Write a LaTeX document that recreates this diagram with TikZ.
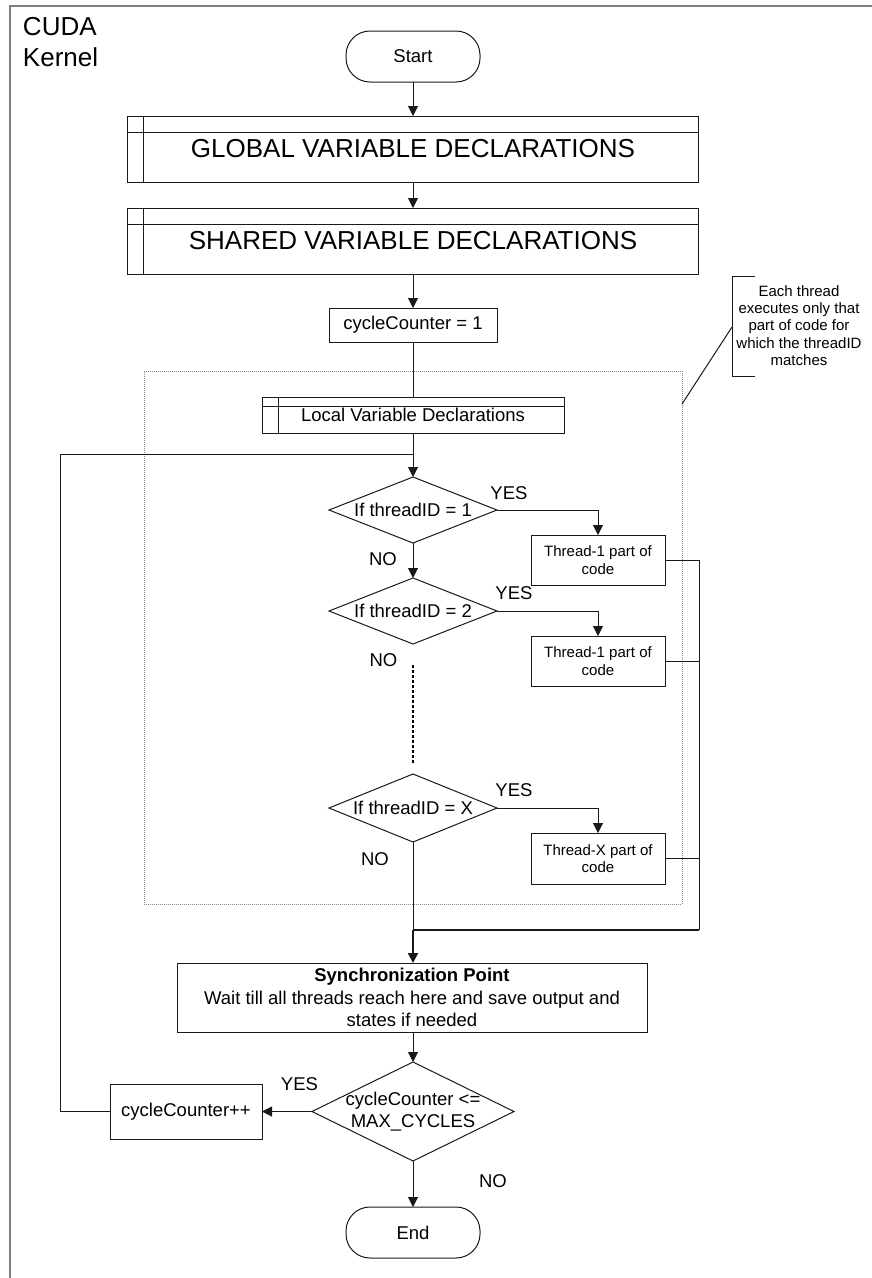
\documentclass[tikz,border=0pt]{standalone}
\usepackage{fontspec}
\setmainfont{Liberation Sans}
\usetikzlibrary{arrows.meta,shapes.geometric}

\newcommand\fmain{\fontsize{18.5}{22.5}\selectfont}
\newcommand\fbig{\fontsize{26}{31}\selectfont}
\newcommand\fsmall{\fontsize{15}{17.4}\selectfont}

\begin{document}
\begin{tikzpicture}[x=1pt,y=-1pt,
  every node/.style={inner sep=0pt, outer sep=0pt},
  conn/.style={line width=1pt, black!90},
  arr/.style={conn, -{Triangle[length=10pt,width=10pt]}},
  txt/.style={font=\fmain, text=black},
  term/.style={draw=black!90, line width=1pt, rectangle, rounded corners=24pt,
    minimum width=134pt, minimum height=51pt, font=\fmain},
  proc/.style={draw=black!90, line width=1pt, rectangle, align=center},
  subr/.style={draw=black!90, line width=1pt, rectangle,
    path picture={
      \draw[line width=1pt, black!90]
        ([yshift=-#1]path picture bounding box.north west) --
        ([yshift=-#1]path picture bounding box.north east);
      \draw[line width=1pt, black!90]
        ([xshift=16pt]path picture bounding box.north west) --
        ([xshift=16pt]path picture bounding box.south west);}},
  decision/.style={draw=black!90, line width=1pt, diamond, shape aspect=2.5}
]
\useasboundingbox (0,0) rectangle (872,1278);

% kernel frame
\draw[line width=2pt, black!50] (10,1278) -- (10,6) -- (872,6);
\node[font=\fbig, align=left, anchor=west] (title) at (23,42) {CUDA\\Kernel};

% thread region
\node[draw=black!45, line width=0.8pt, dash pattern=on 1pt off 1pt,
  minimum width=538pt, minimum height=533pt] (zone) at (413,637.5) {};

% main column
\node[term] (start) at (413,56.5) {Start};
\node[subr=16pt, minimum width=571pt, minimum height=66pt, font=\fbig] (glob) at (413,149) {GLOBAL VARIABLE DECLARATIONS};
\node[subr=16pt, minimum width=571pt, minimum height=66pt, font=\fbig] (shared) at (413,241) {SHARED VARIABLE DECLARATIONS};
\node[proc, minimum width=168pt, minimum height=34pt, font=\fmain] (cc1) at (413,325) {cycleCounter = 1};
\node[subr=9pt, minimum width=302pt, minimum height=36pt, font=\fmain] (local) at (413,415) {Local Variable Declarations};

\node[decision, minimum width=168pt, minimum height=66pt] (d1) at (413,510) {};
\node[txt] at (d1.center) {If threadID = 1};
\node[decision, minimum width=168pt, minimum height=66pt] (d2) at (413,611) {};
\node[txt] at (d2.center) {If threadID = 2};
\node[decision, minimum width=168pt, minimum height=68pt] (dX) at (413,808) {};
\node[txt] at (dX.center) {If threadID = X};

\node[proc, minimum width=134pt, minimum height=50pt, font=\fsmall] (t1) at (598,560) {Thread-1 part of\\code};
\node[proc, minimum width=134pt, minimum height=50pt, font=\fsmall] (t2) at (598,661) {Thread-1 part of\\code};
\node[proc, minimum width=134pt, minimum height=51pt, font=\fsmall] (tX) at (598,858.5) {Thread-X part of\\code};

\node[proc, minimum width=470pt, minimum height=69pt, font=\fmain] (sync) at (412,997.5)
  {\textbf{Synchronization Point}\\Wait till all threads reach here and save output and\\states if needed};

\node[decision, minimum width=202pt, minimum height=99pt] (d4) at (413,1111.5) {};
\node[txt, align=center] at (d4.center) {cycleCounter <=\\MAX\_CYCLES};
\node[proc, minimum width=152pt, minimum height=55pt, font=\fmain] (inc) at (186,1111.5) {cycleCounter++};
\node[term] (end) at (413,1232.5) {End};

% branch labels
\node[txt] at (509,493) {YES};
\node[txt] at (514,593.5) {YES};
\node[txt] at (514,790) {YES};
\node[txt] at (299.5,1084) {YES};
\node[txt] at (383,559.5) {NO};
\node[txt] at (383.5,660.5) {NO};
\node[txt] at (375,859.5) {NO};
\node[txt] at (493,1181.5) {NO};

% note
\node[font=\fsmall, align=center] (note) at (799,325.5)
  {Each thread\\executes only that\\part of code for\\which the threadID\\matches};
\draw[conn] (755,276) -- (732,276) -- (732,376) -- (755,376);
\coordinate (leadStart) at (732,327);
\coordinate (leadEnd) at (682,404);
\draw[conn] (leadStart) -- (leadEnd);

% connectors
\draw[arr] (start) -- (glob);
\draw[arr] (glob) -- (shared);
\draw[arr] (shared) -- (cc1);
\draw[conn] (cc1) -- (local);
\draw[arr] (local) -- (d1);
\draw[arr] (d1) -- (d2);
\draw[arr] (d1.east) -| (t1.north);
\draw[arr] (d2.east) -| (t2.north);
\draw[arr] (dX.east) -| (tX.north);

\coordinate (dots1) at (413,665);
\coordinate (dots2) at (413,763);
\draw[line width=1.6pt, black, dash pattern=on 3pt off 2pt] (dots1) -- (dots2);

\coordinate (merge) at (413,930);
\coordinate (mergeR) at (699,930);
\draw[conn] (t1.east) -| (mergeR);
\draw[conn] (t2.east) -- (t2.east -| mergeR);
\draw[conn] (tX.east) -- (tX.east -| mergeR);
\draw[conn, line width=2pt] (mergeR) -- (merge);
\draw[conn] (dX.south) -- (merge);
\draw[arr, line width=2pt] (merge) -- (merge |- sync.north);

\draw[arr] (sync.south -| d4.north) -- (d4.north);
\draw[arr] (d4.west) -- (inc.east);
\draw[arr] (d4.south) -- (end.north);

\coordinate (loopin) at (413,454);
\coordinate (loopcorner) at (60,454);
\draw[conn] (inc.west) -| (loopcorner) -- (loopin);
\end{tikzpicture}
\end{document}
